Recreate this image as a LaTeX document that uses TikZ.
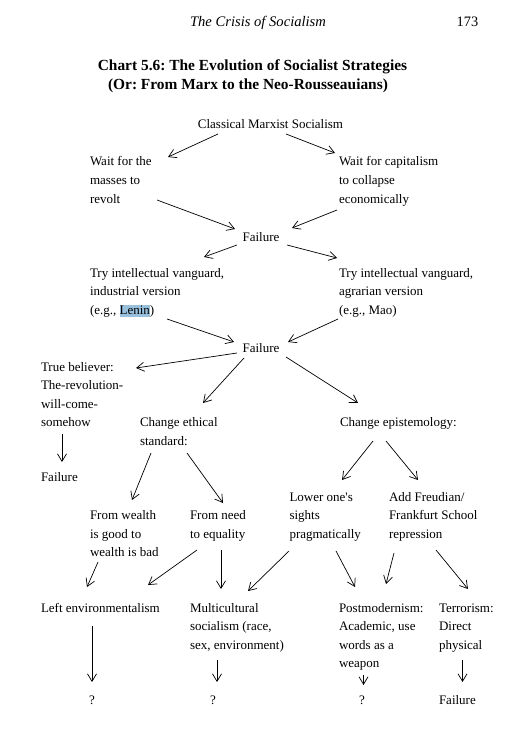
\documentclass[tikz,border=0pt]{standalone}
\usepackage{fontspec}
\setmainfont{Liberation Serif}
\usetikzlibrary{arrows.meta}
\definecolor{hl}{RGB}{153,193,222}
\newcommand{\bodyfont}{\fontsize{13}{18.6}\selectfont}
\newcommand{\topst}{\rule{0pt}{13pt}}
\frenchspacing
\begin{document}
\begin{tikzpicture}[x=1pt,y=-1pt,
  txt/.style={inner sep=0pt, outer sep=0pt, align=left, font=\bodyfont, anchor=north west},
  arr/.style={-{Straight Barb[length=7.5pt,width=9pt]}, line width=0.7pt}]
\useasboundingbox[fill=white] (0,0) rectangle (516,754);
% header and title
\node[inner sep=0pt, anchor=base, font=\fontsize{14.6}{16}\selectfont\itshape] (hdr) at (258,26.5) {The Crisis of Socialism};
\node[inner sep=0pt, anchor=base, font=\fontsize{14.4}{16}\selectfont] (pg) at (467.5,26.5) {173};
\node[inner sep=0pt, anchor=base, font=\fontsize{15.4}{17}\selectfont\bfseries] (t1) at (252.5,70.5) {Chart 5.6: The Evolution of Socialist Strategies};
\node[inner sep=0pt, anchor=base, font=\fontsize{15.4}{17}\selectfont\bfseries] (t2) at (248,90) {(Or: From Marx to the Neo-Rousseauians)};
% nodes
\node[txt, anchor=north] (cms) at (270.5,116) {\topst Classical Marxist Socialism};
\node[txt] (wl) at (90,153) {\topst Wait for the\\masses to\\revolt};
\node[txt] (wr) at (339,153) {\topst Wait for capitalism\\to collapse\\economically};
\node[txt, anchor=north] (f1) at (261,228) {\topst Failure};
\node[txt] (tl) at (90,264) {\topst Try intellectual vanguard,\\industrial version\\(e.g., {\fboxsep=0pt\colorbox{hl}{\rule[-2.8pt]{0pt}{12.3pt}Lenin}})};
\node[txt] (tr) at (339,264) {\topst Try intellectual vanguard,\\agrarian version\\(e.g., Mao)};
\node[txt, anchor=north] (f2) at (261,339) {\topst Failure};
\node[txt] (tb) at (41,358) {\topst True believer:\\The-revolution-\\will-come-\\somehow};
\node[txt] (ce) at (140,413.5) {\topst Change ethical\\standard:};
\node[txt] (cep) at (340,413.5) {\topst Change epistemology:};
\node[txt] (fl) at (41,468.5) {\topst Failure};
\node[txt] (lo) at (289.5,488) {\topst Lower one\textquotesingle s\\sights\\pragmatically};
\node[txt] (ad) at (389,488) {\topst Add Freudian/\\Frankfurt School\\repression};
\node[txt] (fw) at (90,506.5) {\topst From wealth\\is good to\\wealth is bad};
\node[txt] (fn) at (190,506.5) {\topst From need\\to equality};
\node[txt] (le) at (41,599) {\topst Left environmentalism};
\node[txt] (mc) at (190,599) {\topst Multicultural\\socialism (race,\\sex, environment)};
\node[txt] (pm) at (339,599) {\topst Postmodernism:\\Academic, use\\words as a\\weapon};
\node[txt] (te) at (439,599) {\topst Terrorism:\\Direct\\physical};
\node[txt, anchor=north] (q1) at (92,691) {\topst ?};
\node[txt, anchor=north] (q2) at (213,691) {\topst ?};
\node[txt, anchor=north] (q3) at (362,691) {\topst ?};
\node[txt] (ft) at (439,691) {\topst Failure};
% arrows
\draw[arr] ([shift={(-52.5,18)}]cms.north) -- ([shift={(78,4)}]wl.north west);
\draw[arr] ([shift={(15.5,18)}]cms.north) -- ([shift={(-4,0)}]wr.north west);
\draw[arr] ([shift={(67,47)}]wl.north west) -- ([shift={(-26,1)}]f1.north);
\draw[arr] ([shift={(-2,57)}]wr.north west) -- ([shift={(31,0)}]f1.north);
\draw[arr] ([shift={(-24,17)}]f1.north) -- ([shift={(114,-7)}]tl.north west);
\draw[arr] ([shift={(26,17)}]f1.north) -- ([shift={(-2,-6)}]tr.north west);
\draw[arr] ([shift={(77,55)}]tl.north west) -- ([shift={(-27,3)}]f2.north);
\draw[arr] ([shift={(-1,55)}]tr.north west) -- ([shift={(27,3)}]f2.north);
\draw[arr] ([shift={(-24,14)}]f2.north) -- ([shift={(95,10)}]tb.north west);
\draw[arr] ([shift={(-17,19)}]f2.north) -- ([shift={(63,-10.5)}]ce.north west);
\draw[arr] ([shift={(25,18)}]f2.north) -- ([shift={(18,-10.5)}]cep.north west);
\draw[arr] ([shift={(21,76)}]tb.north west) -- ([shift={(21,-6.5)}]fl.north west);
\draw[arr] ([shift={(11,39.5)}]ce.north west) -- ([shift={(42,-6.5)}]fw.north west);
\draw[arr] ([shift={(47,39.5)}]ce.north west) -- ([shift={(33,-3.5)}]fn.north west);
\draw[arr] ([shift={(33,27.5)}]cep.north west) -- ([shift={(52.5,-8)}]lo.north west);
\draw[arr] ([shift={(46,27.5)}]cep.north west) -- ([shift={(29,-8)}]ad.north west);
\draw[arr] ([shift={(8,55.5)}]fw.north west) -- ([shift={(46,-12)}]le.north west);
\draw[arr] ([shift={(7,43.5)}]fn.north west) -- ([shift={(107,-14)}]le.north west);
\draw[arr] ([shift={(31,43.5)}]fn.north west) -- ([shift={(31,-10)}]mc.north west);
\draw[arr] ([shift={(-0.5,63)}]lo.north west) -- ([shift={(58,-8)}]mc.north west);
\draw[arr] ([shift={(46.5,63)}]lo.north west) -- ([shift={(16,-12)}]pm.north west);
\draw[arr] ([shift={(5,65)}]ad.north west) -- ([shift={(47,-15)}]pm.north west);
\draw[arr] ([shift={(47,62)}]ad.north west) -- ([shift={(29,-10)}]te.north west);
\draw[arr] ([shift={(51,27)}]le.north west) -- ([shift={(0,-9)}]q1.north);
\draw[arr] ([shift={(27,61)}]mc.north west) -- ([shift={(4,-9)}]q2.north);
\draw[arr] ([shift={(24.5,76)}]pm.north west) -- ([shift={(1.5,-6)}]q3.north);
\draw[arr] ([shift={(23.5,61)}]te.north west) -- ([shift={(23.5,-9)}]ft.north west);
\end{tikzpicture}
\end{document}
